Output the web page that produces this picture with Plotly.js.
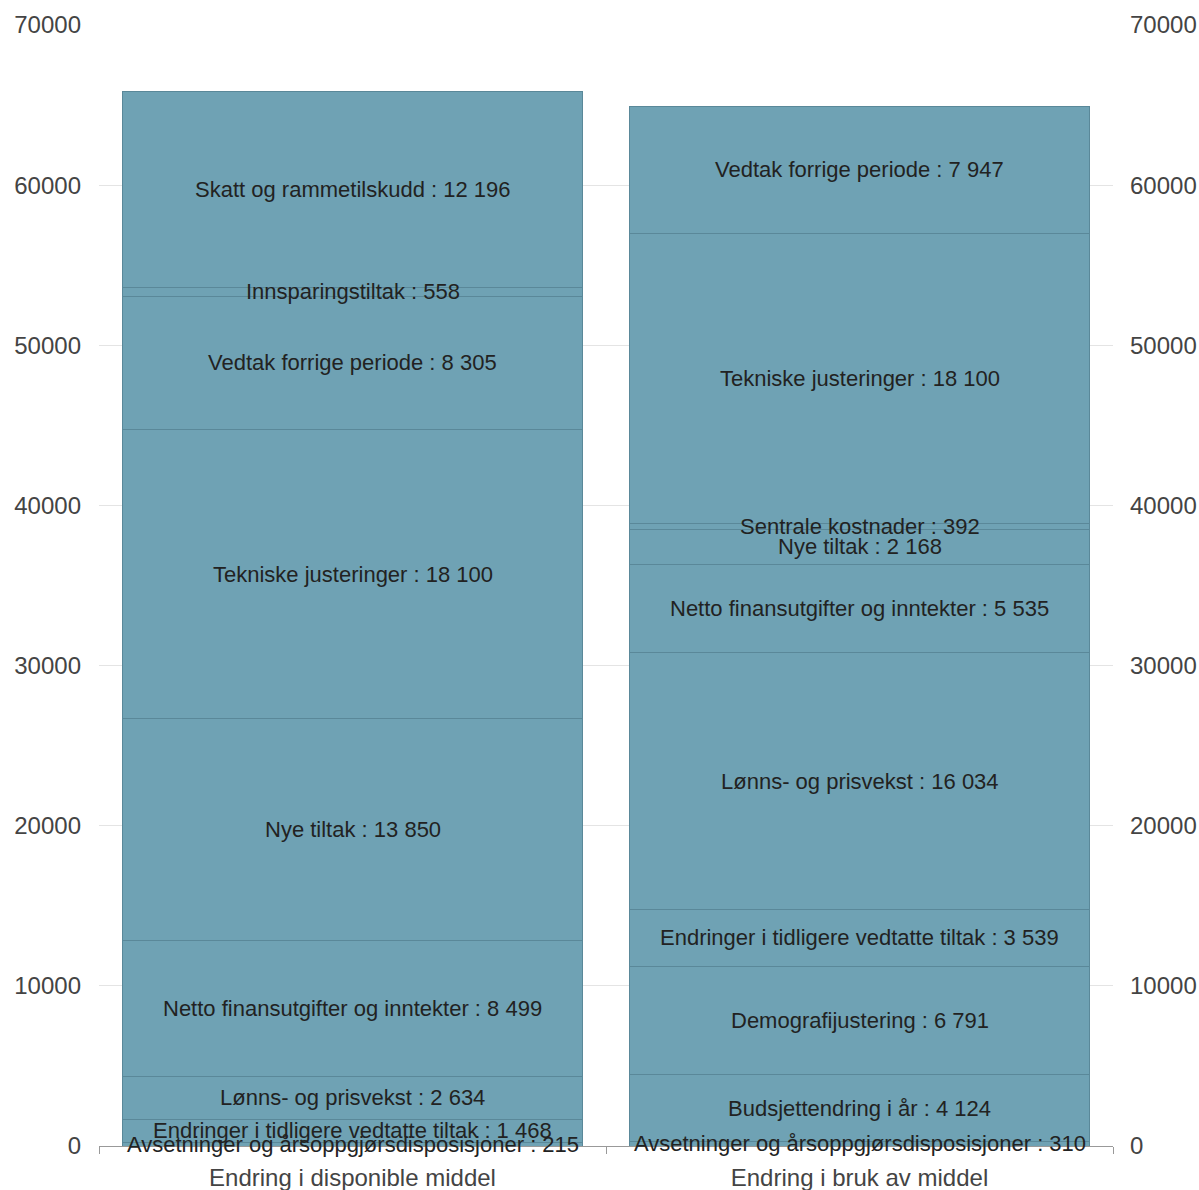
<!DOCTYPE html>
<html>
<head>
<meta charset="utf-8">
<script src="https://cdn.plot.ly/plotly-3.0.1.min.js"></script>
<style>html,body{margin:0;padding:0;background:#fff;}#chart{width:1199px;height:1190px;}</style>
</head>
<body>
<div id="chart"></div>
<script>
const categories = ["Endring i disponible middel", "Endring i bruk av middel"];

const leftLabels = [
  "Avsetninger og årsoppgjørsdisposisjoner",
  "Endringer i tidligere vedtatte tiltak",
  "Lønns- og prisvekst",
  "Netto finansutgifter og inntekter",
  "Nye tiltak",
  "Tekniske justeringer",
  "Vedtak forrige periode",
  "Innsparingstiltak",
  "Skatt og rammetilskudd"
];
const leftValues = [215, 1468, 2634, 8499, 13850, 18100, 8305, 558, 12196];

const rightLabels = [
  "Avsetninger og årsoppgjørsdisposisjoner",
  "Budsjettendring i år",
  "Demografijustering",
  "Endringer i tidligere vedtatte tiltak",
  "Lønns- og prisvekst",
  "Netto finansutgifter og inntekter",
  "Nye tiltak",
  "Sentrale kostnader",
  "Tekniske justeringer",
  "Vedtak forrige periode"
];
const rightValues = [310, 4124, 6791, 3539, 16034, 5535, 2168, 392, 18100, 7947];

const yTicks = [0, 10000, 20000, 30000, 40000, 50000, 60000, 70000];

function fmt(v) { return String(v).replace(/\B(?=(\d{3})+(?!\d))/g, " "); }

const FONT = "Liberation Sans, Arial, sans-serif";
const traces = [];
const annotations = [];
function addStack(cat, labels, values) {
  let base = 0;
  labels.forEach((name, i) => {
    const val = values[i];
    traces.push({
      type: "bar",
      x: [cat],
      y: [val],
      name: name,
      marker: { color: "#6fa2b4", line: { color: "#5a8899", width: 1 } },
      hovertext: [name + " : " + fmt(val)],
      hoverinfo: "text",
      showlegend: false
    });
    annotations.push({
      x: cat, y: base + val / 2, xref: "x", yref: "y",
      text: name + " : " + fmt(val),
      showarrow: false,
      xanchor: "center", yanchor: "middle",
      font: { family: FONT, size: 22, color: "#222222" }
    });
    base += val;
  });
}
addStack(categories[0], leftLabels, leftValues);
addStack(categories[1], rightLabels, rightValues);
traces.push({ type: "scatter", x: [], y: [], yaxis: "y2", showlegend: false, hoverinfo: "skip" });

const layout = {
  width: 1199,
  height: 1190,
  margin: { l: 99, r: 86, t: 25, b: 44 },
  paper_bgcolor: "#ffffff",
  plot_bgcolor: "#ffffff",
  barmode: "stack",
  bargap: 0.091,
  showlegend: false,
  annotations: annotations,
  font: { family: FONT, color: "#444444", size: 24 },
  xaxis: {
    type: "category",
    categoryorder: "array",
    categoryarray: categories,
    range: [-0.5, 1.5],
    showline: true,
    linecolor: "#999999",
    linewidth: 1,
    ticks: "outside",
    tickson: "boundaries",
    ticklen: 7,
    tickcolor: "#999999",
    ticklabelstandoff: 10,
    showgrid: false,
    tickfont: { family: FONT, size: 24, color: "#444444" }
  },
  yaxis: {
    range: [0, 70000],
    tickvals: yTicks,
    ticktext: yTicks.map(String),
    showgrid: true,
    gridcolor: "#e4e4e4",
    gridwidth: 1,
    zeroline: false,
    showline: false,
    ticks: "",
    ticklabelstandoff: 17,
    tickfont: { family: FONT, size: 24, color: "#444444" }
  },
  yaxis2: {
    overlaying: "y",
    side: "right",
    range: [0, 70000],
    tickvals: yTicks,
    ticktext: yTicks.map(String),
    showgrid: false,
    zeroline: false,
    showline: false,
    ticks: "",
    ticklabelstandoff: 16,
    tickfont: { family: FONT, size: 24, color: "#444444" }
  }
};

Plotly.newPlot("chart", traces, layout, { displayModeBar: false, staticPlot: true });
</script>
</body>
</html>
